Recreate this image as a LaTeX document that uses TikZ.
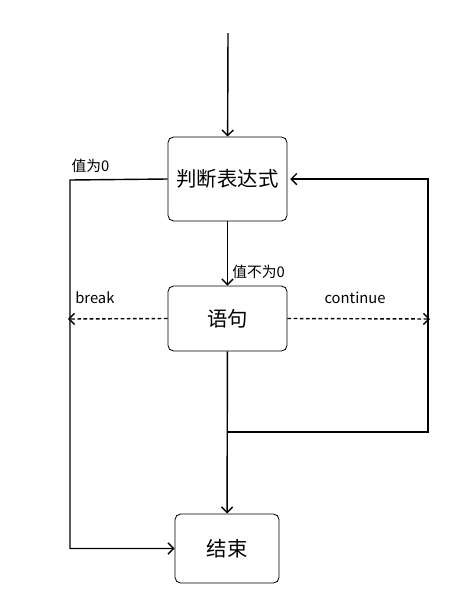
\documentclass[tikz,border=0pt]{standalone}
\usepackage{fontspec}
\setmainfont{Noto Sans CJK SC}
\usetikzlibrary{positioning, arrows.meta}

\tikzset{
  stepbox/.style={draw, rounded corners=4pt, line width=0.6pt, font=\fontsize{14.5pt}{16pt}\selectfont},
  lbl/.style={font=\fontsize{10.5pt}{12pt}\selectfont, inner sep=1pt},
  flow/.style={line width=1pt},
  jump/.style={flow, dash pattern=on 2.6pt off 1.8pt},
}

\begin{document}
\begin{tikzpicture}[>={Straight Barb[length=4pt,width=8pt]}, x=0.025cm, y=-0.025cm]
  % frame
  \useasboundingbox (0,0) rectangle (469,594);
  % boxes
  \node[stepbox, minimum width=2.975cm, minimum height=2.1cm] (judge) at (227.5,179) {判断表达式};
  \node[stepbox, minimum width=2.975cm, minimum height=1.625cm] (stmt) at (227.5,318.5) {语句};
  \node[stepbox, minimum width=2.6cm, minimum height=1.725cm] (finish) at (227,548.5) {结束};
  % free ends
  \coordinate (start) at (228,33);
  \coordinate (lefttop) at (70,180);
  \coordinate (brk) at (68,319);
  \coordinate (cont) at (430,319);
  \coordinate (rbot) at (428,432);
  \coordinate (mid) at (228,432);
  % main flow
  \draw[flow,->] (start) -- (judge);
  \draw[flow,->] (judge) -- node[lbl, pos=0.78, right=2pt] {值不为0} (stmt);
  \draw[flow,->] (stmt) -- (finish);
  % false branch
  \draw[flow,->] (judge.west) -- (lefttop) |- (finish.west);
  \node[lbl, above right=4pt and 0pt] at (lefttop) {值为0};
  % break / continue
  \draw[jump,->] (stmt.west) -- (brk);
  \node[lbl, above right=10pt and 4pt] at (brk) {break};
  \draw[jump,->] (stmt.east) -- (cont);
  \node[lbl] at (355,298) {continue};
  % loop back
  \draw[flow,->] (mid) -- (rbot) |- ([xshift=2pt]judge.east);
\end{tikzpicture}
\end{document}
